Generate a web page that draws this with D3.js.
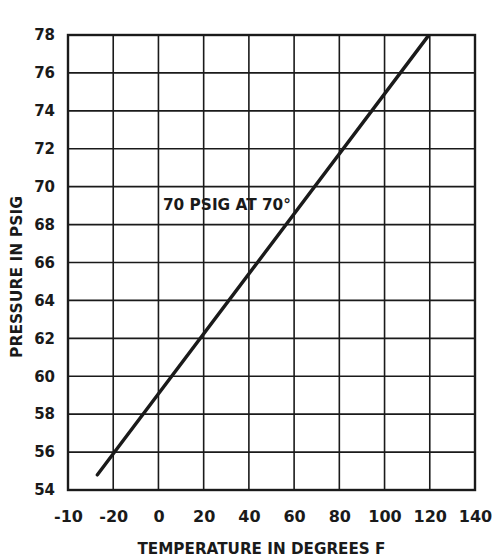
<!DOCTYPE html>
<html>
<head>
<meta charset="utf-8">
<script src="https://cdn.jsdelivr.net/npm/d3@7.9.0/dist/d3.min.js"></script>
<style>
  html, body { margin: 0; padding: 0; background: #fff; }
  svg { display: block; }
  text { font-family: "DejaVu Sans", sans-serif; fill: #1a1a1a; }
</style>
</head>
<body>
<svg id="chart" width="494" height="557"></svg>
<script>
// temperature ticks (the first label is printed as "-10" on the original)
const tempTicks = [-40, -20, 0, 20, 40, 60, 80, 100, 120, 140];
const tempLabels = ['-10', '-20', '0', '20', '40', '60', '80', '100', '120', '140'];
const pressureTicks = [54, 56, 58, 60, 62, 64, 66, 68, 70, 72, 74, 76, 78];

const lineTemps = [-27, 119];
const linePressures = [54.8, 77.9];

const noteText = '70 PSIG AT 70\u00b0';
const noteTemp = 2;
const notePressure = 68.75;

const svg = d3.select('#chart');
const margin = { left: 68, right: 19, top: 35, bottom: 67 };
const width = 494 - margin.left - margin.right;
const height = 557 - margin.top - margin.bottom;

const x = d3.scaleLinear().domain([-40, 140]).range([0, width]);
const y = d3.scaleLinear().domain([54, 78]).range([height, 0]);

const g = svg.append('g').attr('transform', `translate(${margin.left},${margin.top})`);

// grid
g.append('g')
  .selectAll('line')
  .data(tempTicks)
  .join('line')
  .attr('x1', (d) => x(d))
  .attr('x2', (d) => x(d))
  .attr('y1', 0)
  .attr('y2', height)
  .attr('stroke', '#1a1a1a')
  .attr('stroke-width', 1.6);

g.append('g')
  .selectAll('line')
  .data(pressureTicks)
  .join('line')
  .attr('x1', 0)
  .attr('x2', width)
  .attr('y1', (d) => y(d))
  .attr('y2', (d) => y(d))
  .attr('stroke', '#1a1a1a')
  .attr('stroke-width', 1.6);

g.append('rect')
  .attr('width', width)
  .attr('height', height)
  .attr('fill', 'none')
  .attr('stroke', '#1a1a1a')
  .attr('stroke-width', 2.4);

// axes (labels only)
const xAxis = d3.axisBottom(x)
  .tickValues(tempTicks)
  .tickFormat((d, i) => tempLabels[i])
  .tickSize(0)
  .tickPadding(21);
const xg = g.append('g').attr('transform', `translate(0,${height})`).call(xAxis);
xg.select('.domain').remove();
xg.selectAll('text')
  .attr('font-size', 16)
  .attr('font-weight', 'bold')
  .attr('font-family', '"DejaVu Sans", sans-serif');

const yAxis = d3.axisLeft(y)
  .tickValues(pressureTicks)
  .tickSize(0)
  .tickPadding(13);
const yg = g.append('g').call(yAxis);
yg.select('.domain').remove();
yg.selectAll('text')
  .attr('font-size', 15)
  .attr('font-weight', 'bold')
  .attr('font-family', '"DejaVu Sans", sans-serif');

// pressure line
const line = d3.line()
  .x((d) => x(d[0]))
  .y((d) => y(d[1]));

g.append('path')
  .datum(d3.zip(lineTemps, linePressures))
  .attr('d', line)
  .attr('fill', 'none')
  .attr('stroke', '#1a1a1a')
  .attr('stroke-width', 3.4)
  .attr('stroke-linecap', 'round');

// annotation
g.append('text')
  .attr('x', x(noteTemp))
  .attr('y', y(notePressure))
  .attr('font-size', 16)
  .attr('font-weight', 'bold')
  .attr('textLength', 128)
  .attr('lengthAdjust', 'spacingAndGlyphs')
  .text(noteText);

// axis titles
svg.append('text')
  .attr('x', margin.left + width / 2 - 10)
  .attr('y', 554)
  .attr('text-anchor', 'middle')
  .attr('font-size', 16)
  .attr('font-weight', 'bold')
  .attr('textLength', 248)
  .attr('lengthAdjust', 'spacingAndGlyphs')
  .text('TEMPERATURE IN DEGREES F');

svg.append('text')
  .attr('transform', 'translate(22,277) rotate(-90)')
  .attr('text-anchor', 'middle')
  .attr('font-size', 15)
  .attr('font-weight', 'bold')
  .attr('textLength', 162)
  .attr('lengthAdjust', 'spacingAndGlyphs')
  .text('PRESSURE IN PSIG');
</script>
</body>
</html>
